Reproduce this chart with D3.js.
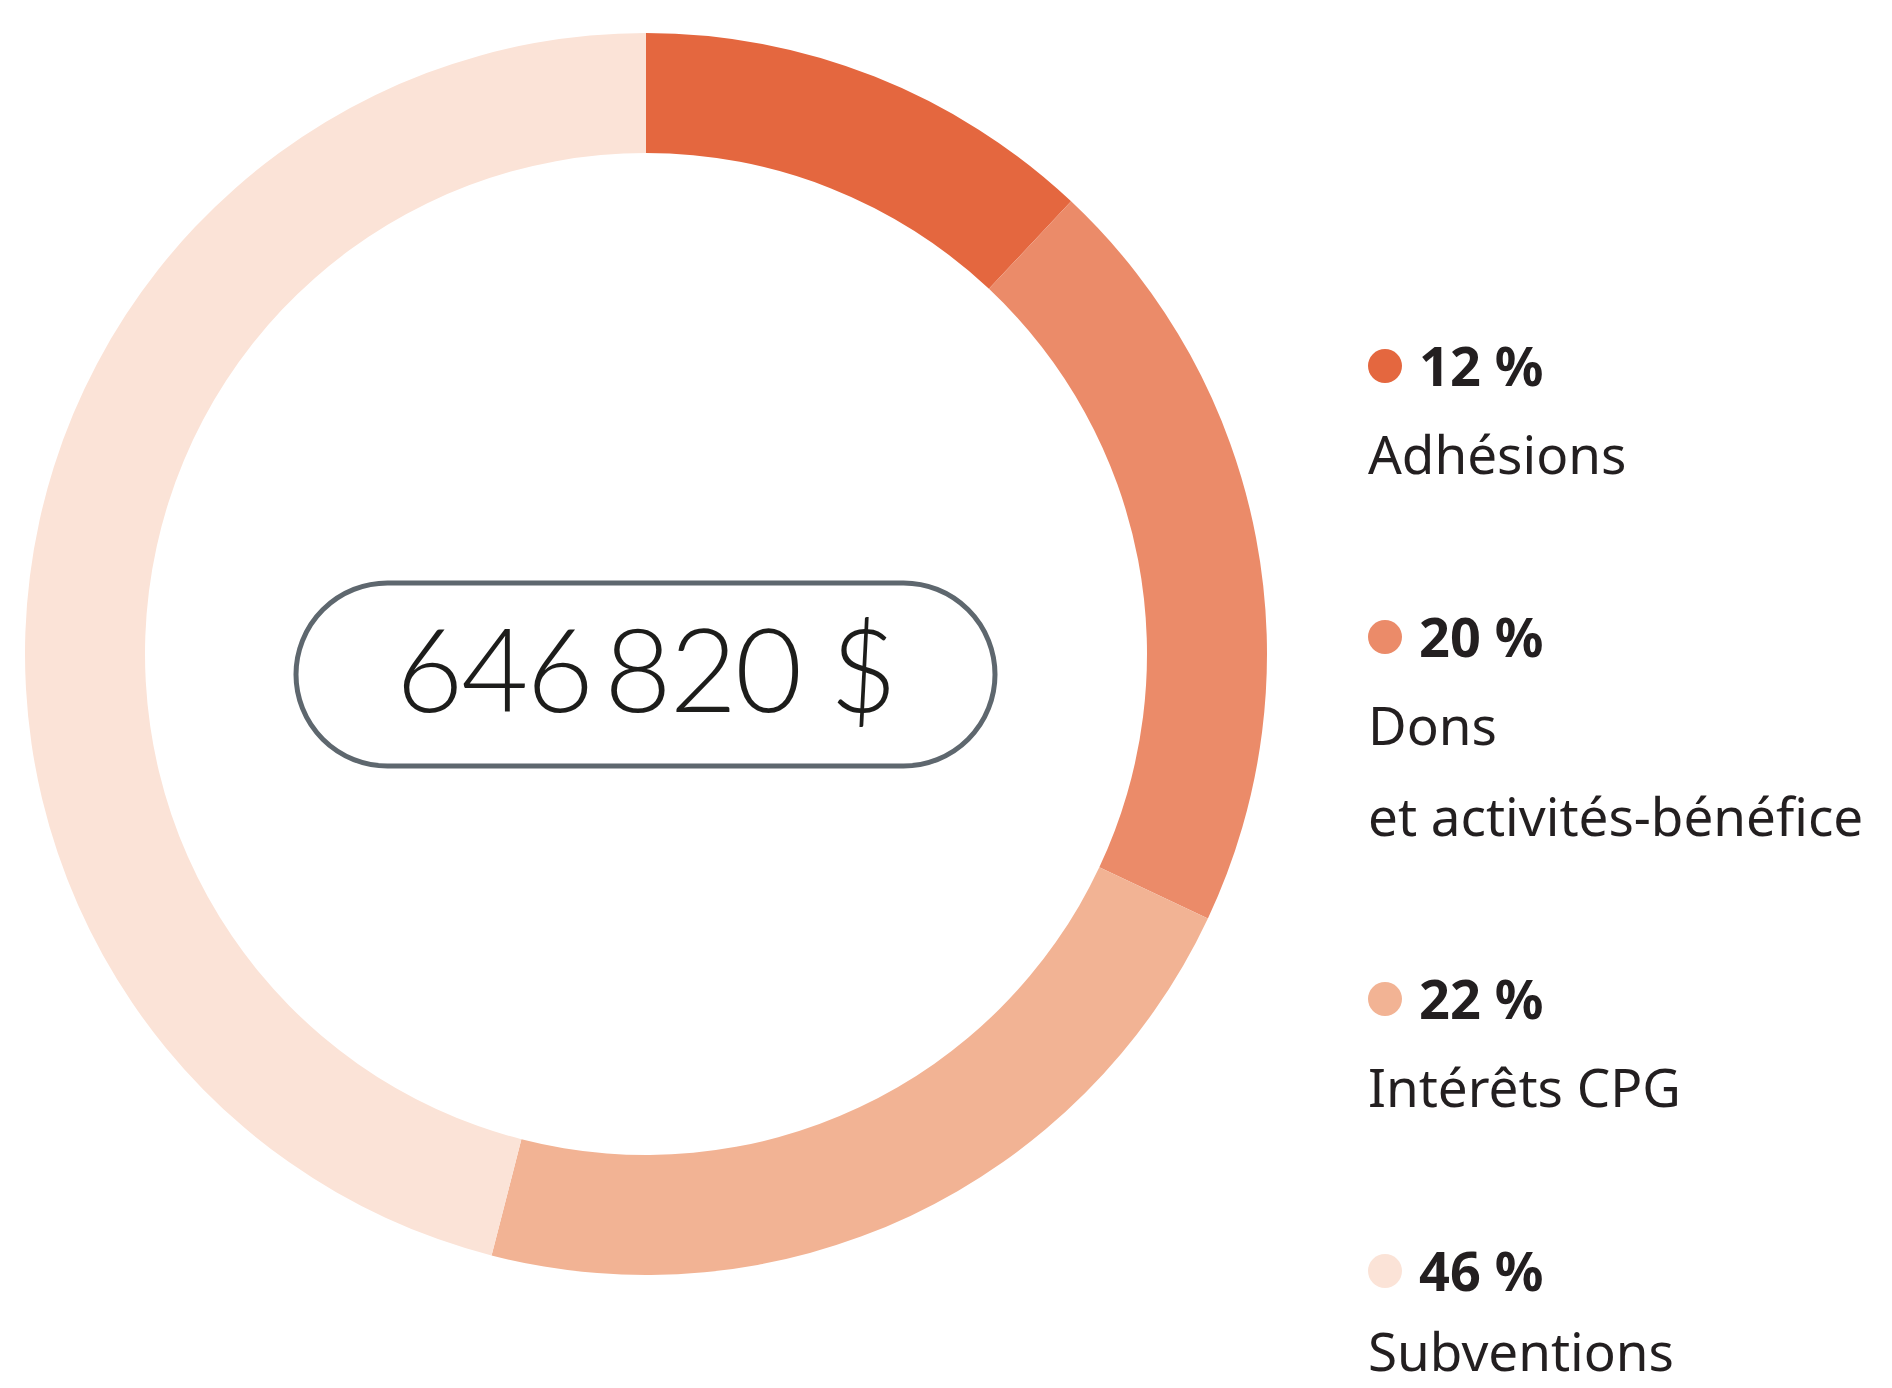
<!DOCTYPE html>
<html><head><meta charset="utf-8">
<script src="https://cdn.jsdelivr.net/npm/d3@7"></script>
<style>html,body{margin:0;padding:0;background:#fff;}svg{display:block;}</style>
</head><body>
<script>
const categories = ["Adhésions", "Dons\net activités-bénéfice", "Intérêts CPG", "Subventions"];
const shares = [12, 20, 22, 46];
const shareLabels = ["12 %", "20 %", "22 %", "46 %"];
const colors = ["#E4673F", "#EB8B69", "#F2B394", "#FBE3D7"];
const totalLabel = "646\u2009820 $";

const W = 1892, H = 1388;
const svg = d3.select("body").append("svg").attr("width", W).attr("height", H);

const cx = 646, cy = 654, rOuter = 621, rInner = 501;
const pie = d3.pie().sort(null).value(d => d);
const arc = d3.arc().innerRadius(rInner).outerRadius(rOuter);
const g = svg.append("g").attr("transform", `translate(${cx},${cy})`);
g.selectAll("path").data(pie(shares)).join("path")
  .attr("d", arc).attr("fill", (d, i) => colors[i]);

// center pill
const pill = { x: 296, y: 583, w: 699, h: 183 };
svg.append("rect").attr("x", pill.x).attr("y", pill.y).attr("width", pill.w).attr("height", pill.h)
  .attr("rx", pill.h / 2).attr("ry", pill.h / 2)
  .attr("fill", "#fff").attr("stroke", "#5E676E").attr("stroke-width", 5);
svg.append("text").attr("x", pill.x + pill.w / 2).attr("y", 712)
  .attr("text-anchor", "middle")
  .style("font-family", "Lato").style("font-weight", 300).style("font-size", "116px")
  .style("letter-spacing", "-2px")
  .attr("fill", "#1d1d1b").text(totalLabel);

// legend
const dotYs = [366, 637, 999, 1271];
const lg = svg.append("g");
categories.forEach((c, i) => {
  const y = dotYs[i];
  lg.append("circle").attr("cx", 1385).attr("cy", y).attr("r", 17).attr("fill", colors[i]);
  lg.append("text").attr("x", 1419).attr("y", y + 20)
    .style("font-family", "Noto Sans").style("font-weight", 700).style("font-size", "54px")
    .attr("fill", "#231F20").text(shareLabels[i]);
  c.split("\n").forEach((line, j) => {
    lg.append("text").attr("x", 1368).attr("y", Math.min(y + 108 + j * 91, 1371))
      .style("font-family", "Noto Sans").style("font-weight", 400).style("font-size", "53px")
      .attr("fill", "#231F20").text(line);
  });
});
</script>
</body></html>
